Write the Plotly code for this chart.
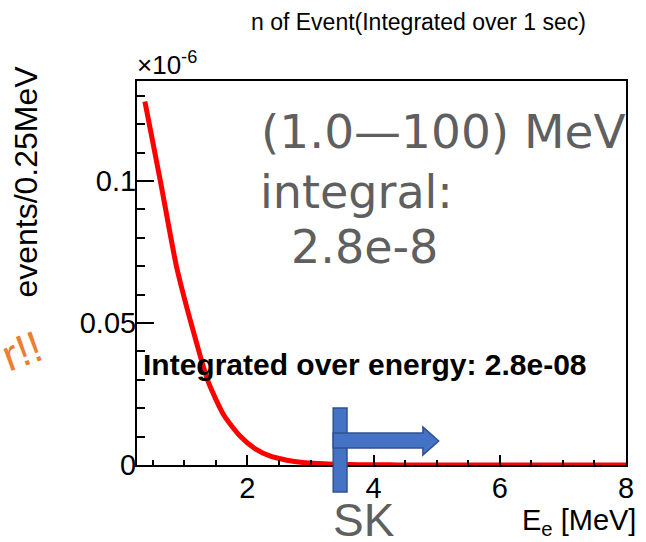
import plotly.graph_objects as go

# ---- data (events per 0.25 MeV, in units of 1e-6) ----
energy_mev = [0.375, 0.625, 0.875, 1.125, 1.375, 1.625, 1.875, 2.125, 2.375, 2.625,
              2.875, 3.125, 3.375, 3.625, 3.875, 4.125, 4.375, 4.625, 4.875, 5.125,
              5.375, 5.625, 5.875, 6.125, 6.375, 6.625, 6.875, 7.125, 7.375, 7.625, 7.875, 8.0]
events_e6 = [0.128, 0.0995, 0.070, 0.0485, 0.0295, 0.0176, 0.0104, 0.0057, 0.0030, 0.0017,
             0.0009, 0.0005, 0.0003, 0.00015, 0.0001, 0.00006, 0.00004, 0.00003, 0.00002, 0.00001,
             0.00001, 0.0, 0.0, 0.0, 0.0, 0.0, 0.0, 0.0, 0.0, 0.0, 0.0, 0.0]
x_tick_vals = [2, 4, 6, 8]
y_tick_vals = [0, 0.05, 0.1]
y_tick_text = ["0", "0.05", "0.1"]

W, H = 646, 542
L, R, T, B = 137, 13, 81, 77
PW, PH = W - L - R, H - T - B


def px(xp):
    return (xp - L) / PW


def py(yp):
    return (H - B - yp) / PH


fig = go.Figure()
fig.add_trace(go.Scatter(
    x=energy_mev, y=events_e6, mode="lines",
    line=dict(color="#ff0000", width=5, shape="spline", smoothing=0.6),
    showlegend=False, hoverinfo="skip"))

font_main = "Liberation Sans, Arial, Helvetica, sans-serif"
axis_common = dict(showline=True, linecolor="black", linewidth=2, mirror=True,
                   showgrid=False, zeroline=False, ticks="inside", tickwidth=2,
                   tickcolor="black", layer="above traces", ticklabeloverflow="allow",
                   tickfont=dict(family=font_main, size=29, color="black"))

fig.update_xaxes(range=[0.25, 8.0], tickvals=x_tick_vals, ticklen=10,
                 ticklabelstandoff=-4,
                 minor=dict(ticks="inside", dtick=0.5, tick0=0, ticklen=5,
                            tickwidth=2, tickcolor="black"),
                 **axis_common)
fig.update_yaxes(range=[0, 0.1352], tickvals=y_tick_vals, ticktext=y_tick_text,
                 ticklen=17, ticklabelstandoff=-7,
                 minor=dict(ticks="inside", dtick=0.01, tick0=0, ticklen=8,
                            tickwidth=2, tickcolor="black"),
                 **axis_common)

gray = "#5f5f5f"
big_font = "DejaVu Sans, Noto Sans, sans-serif"
annotations = [
    dict(text="n of Event(Integrated over 1 sec)", x=px(423), y=py(22),
         xanchor="center", yanchor="middle",
         font=dict(family=font_main, size=23, color="black")),
    dict(text="×10<sup>-6</sup>", x=px(135), y=py(82), xanchor="left", yanchor="bottom",
         font=dict(family=font_main, size=26, color="black")),
    dict(text="events/0.25MeV", x=px(24), y=py(182), textangle=-90,
         xanchor="center", yanchor="middle",
         font=dict(family=font_main, size=32, color="black")),
    dict(text="(1.0—100) MeV", x=px(261), y=py(131), xanchor="left", yanchor="middle",
         font=dict(family=big_font, size=47, color=gray)),
    dict(text="integral:", x=px(260), y=py(192), xanchor="left", yanchor="middle",
         font=dict(family=big_font, size=46, color=gray)),
    dict(text="2.8e-8", x=px(291), y=py(247), xanchor="left", yanchor="middle",
         font=dict(family=big_font, size=46, color=gray)),
    dict(text="<b>Integrated over energy: 2.8e-08</b>", x=px(141), y=py(364),
         xanchor="left", yanchor="middle",
         font=dict(family=font_main, size=30, color="black")),
    dict(text="SK", x=px(367), y=py(520), xanchor="center", yanchor="middle",
         font=dict(family=font_main, size=46, color=gray)),
    dict(text="E<sub>e</sub> [MeV]", x=px(645), y=py(522), xanchor="right", yanchor="middle",
         font=dict(family=font_main, size=29, color="black")),
    dict(text="r!!", x=px(50), y=py(350), textangle=-20, xanchor="right", yanchor="middle",
         font=dict(family=font_main, size=44, color="#ED7D31")),
]
for a in annotations:
    a.update(xref="paper", yref="paper", showarrow=False)

blue, blue_edge = "#4472C4", "#2F528F"
shapes = [
    dict(type="rect", x0=px(336), x1=px(350), y0=py(492), y1=py(408)),
    dict(type="path",
         path=(f"M {px(336)} {py(433)} L {px(427)} {py(433)} L {px(427)} {py(427)} "
               f"L {px(443)} {py(441)} L {px(427)} {py(455)} L {px(427)} {py(448)} "
               f"L {px(336)} {py(448)} Z")),
]
for s in shapes:
    s.update(xref="paper", yref="paper", fillcolor=blue,
             line=dict(color=blue_edge, width=1.5), layer="above")

fig.update_layout(width=W, height=H, margin=dict(l=L, r=R, t=T, b=B, pad=0),
                  paper_bgcolor="white", plot_bgcolor="white",
                  annotations=annotations, shapes=shapes)

fig.write_html("out.html")
